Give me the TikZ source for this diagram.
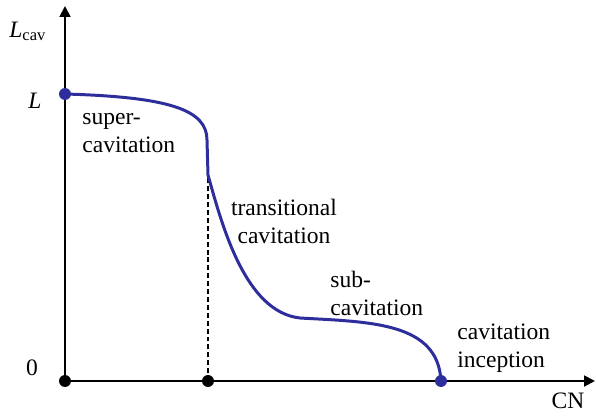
\documentclass[tikz,border=0pt]{standalone}
\usepackage{amsmath}
\usepackage{fontspec}
\setmainfont{Liberation Serif}
\usepackage{tikz}
\usetikzlibrary{arrows.meta}
\definecolor{curveblue}{RGB}{45,45,155}

\begin{document}
\begin{tikzpicture}[x=0.02cm, y=-0.02cm,
    every node/.style={font=\fontsize{13.4}{15.9}\selectfont},
    axis/.style={line width=1.1pt, -{Triangle[length=6.2pt, width=6.2pt]}},
    dot/.style={circle, fill=#1, inner sep=0pt, minimum size=6.8pt},
    curve/.style={line width=1.7pt, curveblue, line join=round, line cap=round},
    label/.style={inner sep=0pt, align=left, anchor=base west}]

    \useasboundingbox (0,0) rectangle (596,416);

    % Declare the points
    \coordinate (O) at (65,381);
    \coordinate (S) at (65,94);
    \coordinate (I) at (441,381);
    \coordinate (ytop) at (65,6);
    \coordinate (xend) at (595,381);
    \coordinate (K) at (208,175);

    % Declare axes
    \draw[axis] (O) -- (ytop);
    \draw[axis] (O) -- (xend);
    \draw[line width=0.9pt, dash pattern=on 2.8pt off 1.7pt] (208,381) -- (K);

    % Declare the curve
    \draw[curve] (S) .. controls (170,97) and (207,110) .. (207,140)
        -- (K) .. controls (222,225) and (245,312) .. (300,318)
        .. controls (370,322) and (438,322) .. (I);

    % Declare the dots
    \node[dot=black] at (O) (Odot) {};
    \node[dot=black] at (208,381) (T) {};
    \node[dot=curveblue] at (I) (Idot) {};
    \node[dot=curveblue] at (S) (Sdot) {};

    % Declare axis labels
    \node[inner sep=0pt, anchor=base west] at (9,37) (Lcav) {$\textit{L}_{\textrm{cav}}$};
    \node[inner sep=0pt, anchor=base] at (35,108) (Lval) {\textit{L}};
    \node[inner sep=0pt, anchor=base] at (32,375) (zero) {0};
    \node[inner sep=0pt, anchor=base] at (568,408) (CN) {CN};

    % Declare region labels
    \node[label] at (82,152) (super) {super-\\cavitation};
    \node[label, align=center, anchor=base] at (284,243) (trans) {transitional\\cavitation};
    \node[label] at (330,315) (sub) {sub-\\cavitation};
    \node[label] at (457,367) (incep) {cavitation\\inception};

\end{tikzpicture}
\end{document}
